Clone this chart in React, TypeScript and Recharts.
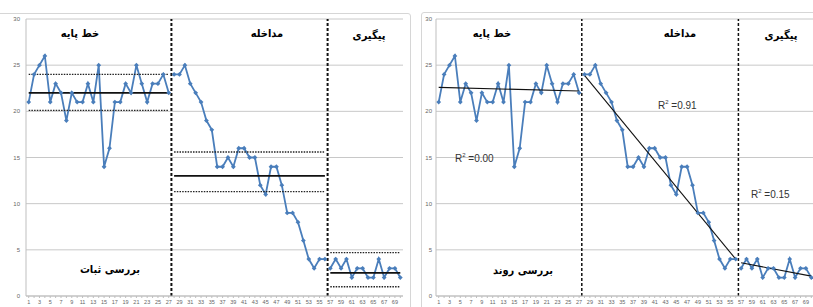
import React from "react";
import { LineChart, Line, XAxis, YAxis, CartesianGrid, ReferenceLine } from "recharts";

// session scores per phase
const baseline = [21, 24, 25, 26, 21, 23, 22, 19, 22, 21, 21, 23, 21, 25, 14, 16, 21, 21, 23, 22, 25, 23, 21, 23, 23, 24, 22];
const intervention = [24, 24, 25, 23, 22, 21, 19, 18, 14, 14, 15, 14, 16, 16, 15, 15, 12, 11, 14, 14, 12, 9, 9, 8, 6, 4, 3, 4, 4];
const followUp = [3, 4, 3, 4, 2, 3, 3, 2, 2, 4, 2, 3, 3, 2];

const yTicks = [0, 5, 10, 15, 20, 25, 30];
const xTickLabels = [1, 3, 5, 7, 9, 11, 13, 15, 17, 19, 21, 23, 25, 27, 29, 31, 33, 35, 37, 39, 41, 43, 45, 47, 49, 51, 53, 55, 57, 59, 61, 63, 65, 67, 69];

const phaseTitles = ["خط پایه", "مداخله", "پیگیری"];

// stability envelope (left chart)
const levelMean = [22, 13, 2.5];
const levelUpper = [24, 15.6, 4.7];
const levelLower = [20.1, 11.3, 1.0];

// trend lines (right chart): value at first and last session of each phase
const trendStart = [22.6, 23.9, 3.6];
const trendEnd = [22.2, 4.0, 2.15];
const rSquared = ["0.00", "0.91", "0.15"];

const phases = [baseline, intervention, followUp];
const starts: number[] = [];
let total = 0;
phases.forEach((p) => {
  starts.push(total + 1);
  total += p.length;
});
const sessions = Array.from({ length: total }, (_, k) => k + 1);

const rows = sessions.map((s) => {
  const row: any = { s };
  phases.forEach((p, j) => {
    const first = starts[j];
    const last = first + p.length - 1;
    if (s >= first && s <= last) row["v" + j] = p[s - first];
    if (s === first || s === last) {
      row["m" + j] = levelMean[j];
      row["u" + j] = levelUpper[j];
      row["l" + j] = levelLower[j];
      row["t" + j] = s === first ? trendStart[j] : trendEnd[j];
    }
  });
  return row;
});

const BLUE = "#4a7ebb";

const Diamond = (props: any) => {
  const { cx, cy } = props;
  if (cx == null || cy == null || props.value == null) return <g />;
  const r = 2.4;
  return <path d={`M${cx},${cy - r}L${cx + r},${cy}L${cx},${cy + r}L${cx - r},${cy}Z`} fill={BLUE} />;
};

const XTick = (props: any) => {
  const { x, y, payload } = props;
  if (!xTickLabels.includes(payload.value)) return <g />;
  return (
    <text x={x} y={y + 5} textAnchor="middle" fontSize={5.5} fill="#666" fontFamily="Liberation Sans">
      {payload.value}
    </text>
  );
};

function PhaseChart({ mode, width, tickGap, dashWidth }: { mode: "level" | "trend"; width: number; tickGap: number; dashWidth: number }) {
  return (
    <LineChart width={width} height={307} data={rows} margin={{ top: 19, right: 0, bottom: 0, left: 0 }}>
      <CartesianGrid vertical={false} stroke="#c8c8c8" />
      <XAxis
        dataKey="s"
        type="number"
        domain={[0.5, total + 0.5]}
        ticks={sessions}
        interval={0}
        height={11}
        tick={<XTick />}
        tickSize={2}
        tickMargin={1}
        axisLine={{ stroke: "#bfbfbf" }}
        tickLine={{ stroke: "#bfbfbf" }}
      />
      <YAxis
        domain={[0, 30]}
        ticks={yTicks}
        width={26}
        tickLine={false}
        tickSize={0}
        tickMargin={tickGap}
        axisLine={{ stroke: "#bfbfbf" }}
        tick={{ fontSize: 6, fill: "#666", fontFamily: "Liberation Sans" }}
      />
      <ReferenceLine x={starts[1] - 0.5} stroke="#111" strokeWidth={dashWidth} strokeDasharray="3 2" />
      <ReferenceLine x={starts[2] - 0.5} stroke="#111" strokeWidth={dashWidth} strokeDasharray="3 2" />
      {phases.map((_, j) => (
        <Line key={"v" + j} dataKey={"v" + j} stroke={BLUE} strokeWidth={1.8} dot={<Diamond />} isAnimationActive={false} />
      ))}
      {mode === "level" &&
        phases.map((_, j) => (
          <React.Fragment key={"lv" + j}>
            <Line dataKey={"m" + j} stroke="#111" strokeWidth={1.7} dot={false} connectNulls isAnimationActive={false} />
            <Line dataKey={"u" + j} stroke="#222" strokeWidth={1.4} strokeDasharray="1.5 1.2" dot={false} connectNulls isAnimationActive={false} />
            <Line dataKey={"l" + j} stroke="#222" strokeWidth={1.4} strokeDasharray="1.5 1.2" dot={false} connectNulls isAnimationActive={false} />
          </React.Fragment>
        ))}
      {mode === "trend" &&
        phases.map((_, j) => (
          <Line key={"t" + j} dataKey={"t" + j} stroke="#111" strokeWidth={1.1} dot={false} connectNulls isAnimationActive={false} />
        ))}
    </LineChart>
  );
}

const titleStyle = (x: number, y: number, size: number): React.CSSProperties => ({
  position: "absolute",
  left: x,
  top: y,
  transform: "translate(-50%, -50%)",
  whiteSpace: "nowrap",
  direction: "rtl",
  fontFamily: "'DejaVu Sans Condensed', 'DejaVu Sans'",
  fontStretch: "condensed",
  fontWeight: "bold",
  fontSize: size,
  color: "#000",
});

const rStyle = (x: number, y: number): React.CSSProperties => ({
  position: "absolute",
  left: x,
  top: y,
  transform: "translateY(-50%)",
  whiteSpace: "nowrap",
  fontFamily: "Liberation Sans",
  fontSize: 10,
  color: "#333",
});

const leftTitlePos = [[80, 33], [267, 33], [369, 35]];
const rightTitlePos = [[492, 33], [680, 33], [781, 35]];
const rPos = [[455, 158], [658, 105], [751, 194]];

export default function App() {
  return (
    <div style={{ position: "absolute", left: 0, top: 0, width: 813, height: 307, overflow: "hidden", background: "#fff" }}>
      <div style={{ position: "absolute", left: -6, top: 13, width: 415, height: 310, border: "1px solid #d6d6d6", borderRadius: 3 }} />
      <div style={{ position: "absolute", left: 421, top: 12, width: 400, height: 310, border: "1px solid #d6d6d6", borderRadius: 3 }} />
      <div style={{ position: "absolute", left: 0, top: 0 }}>
        <PhaseChart mode="level" width={403} tickGap={6} dashWidth={2} />
      </div>
      <div style={{ position: "absolute", left: 410, top: 0 }}>
        <PhaseChart mode="trend" width={404} tickGap={4} dashWidth={1.5} />
      </div>
      {phaseTitles.map((t, j) => (
        <div key={"lt" + j} style={titleStyle(leftTitlePos[j][0], leftTitlePos[j][1], 11)}>{t}</div>
      ))}
      {phaseTitles.map((t, j) => (
        <div key={"rt" + j} style={titleStyle(rightTitlePos[j][0], rightTitlePos[j][1], 11)}>{t}</div>
      ))}
      <div style={titleStyle(110, 269, 11)}>بررسی ثبات</div>
      <div style={titleStyle(523, 270, 11)}>بررسی روند</div>
      {rSquared.map((r, j) => (
        <div key={"r" + j} style={rStyle(rPos[j][0], rPos[j][1])}>
          R<sup style={{ fontSize: 6 }}>2</sup> ={r}
        </div>
      ))}
    </div>
  );
}
